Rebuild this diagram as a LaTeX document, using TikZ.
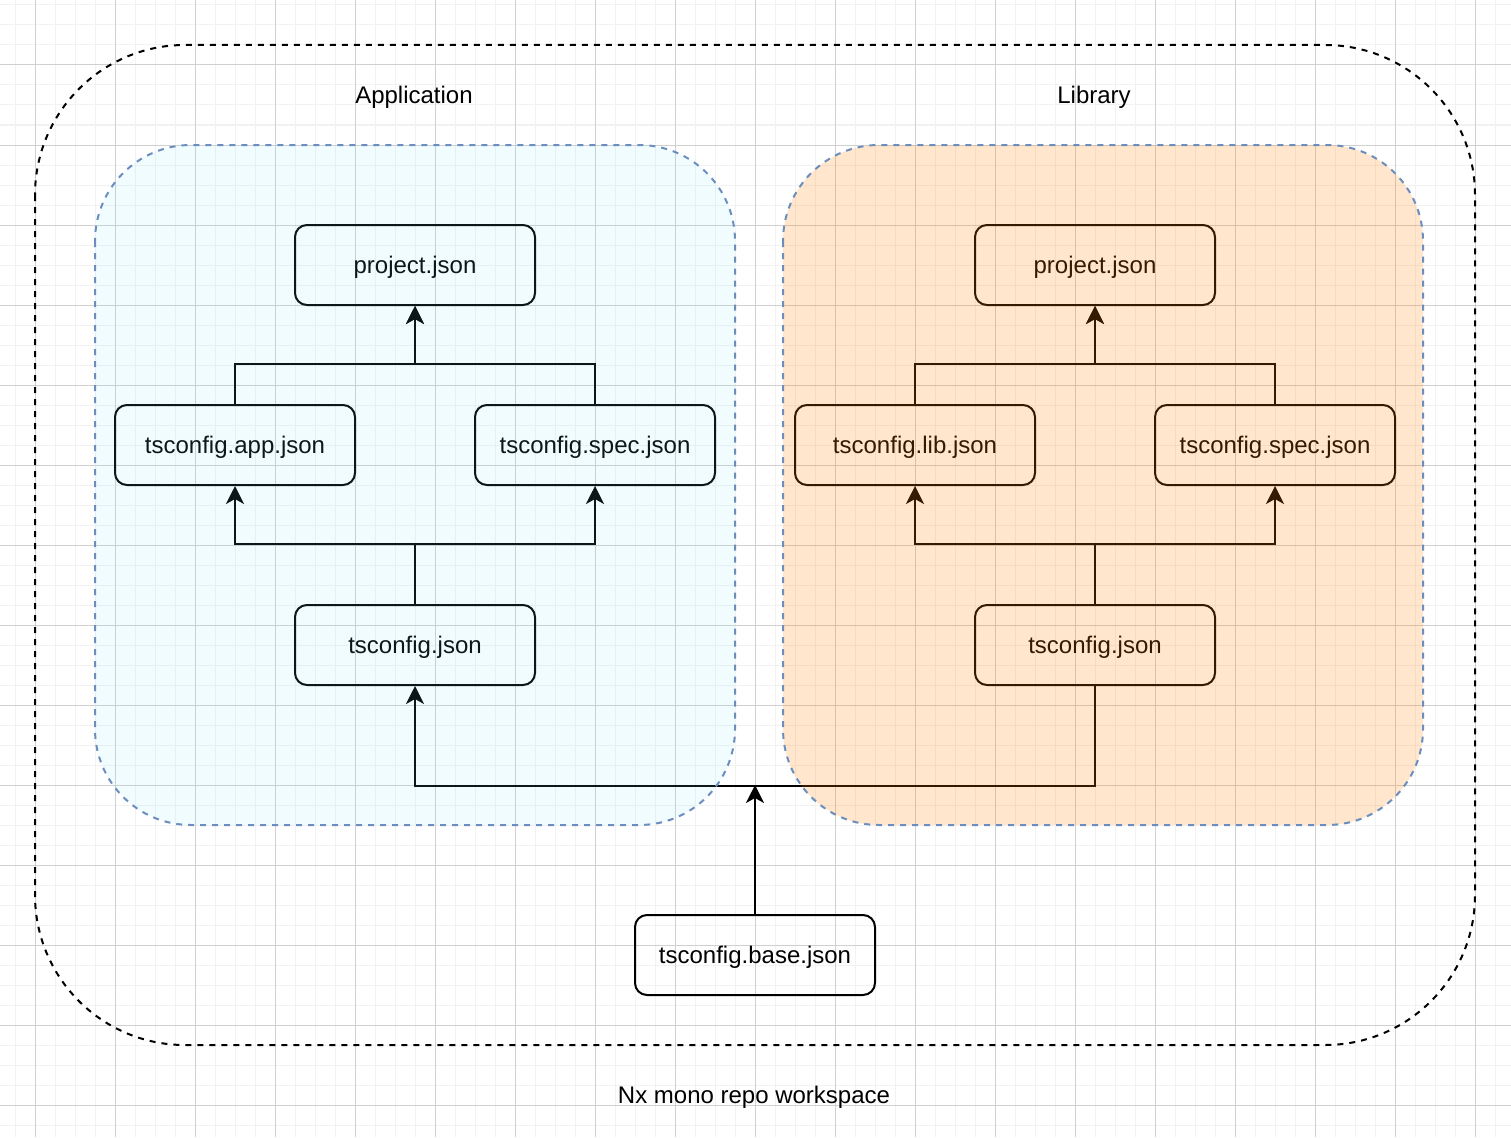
\documentclass[tikz,border=0pt]{standalone}
\usepackage{fontspec}
\setmainfont{Liberation Sans}
\usepackage{xcolor}
\usetikzlibrary{arrows.meta}
\usetikzlibrary{calc}
\definecolor{minorgrid}{RGB}{242,242,242}
\definecolor{majorgrid}{RGB}{208,208,208}
\definecolor{appfill}{RGB}{120,230,255}
\definecolor{libfill}{RGB}{255,130,0}
\definecolor{groupline}{RGB}{108,142,191}

\begin{document}
\begin{tikzpicture}[x=1pt,y=-1pt,
		file/.style={rectangle,draw,line width=2pt,rounded corners=12pt,minimum width=240pt,minimum height=80pt,text height=21.7pt,text depth=5.1pt,font=\fontsize{24}{28}\selectfont},
		label/.style={text height=21.7pt,text depth=5.1pt,font=\fontsize{24}{28}\selectfont},
		edge/.style={line width=2pt,-{Stealth[length=18pt,width=18pt,inset=5pt]}},
		group/.style={draw=groupline,line width=2pt,dash pattern=on 6pt off 6pt,rounded corners=96pt}]
		\useasboundingbox (0,0) rectangle (1511,1137);
		\fill[white] (0,0) rectangle (1511,1137);

		% grid
		\foreach \x in {15,35,...,1495} \draw[minorgrid,line width=1pt] (\x,0) -- (\x,1137);
		\foreach \y in {5,25,...,1125} \draw[minorgrid,line width=1pt] (0,\y) -- (1511,\y);
		\foreach \x in {35,115,...,1475} \draw[majorgrid,line width=1pt] (\x,0) -- (\x,1137);
		\foreach \y in {65,145,...,1105} \draw[majorgrid,line width=1pt] (0,\y) -- (1511,\y);

		\draw[line width=2pt,dash pattern=on 6pt off 6pt,rounded corners=150pt] (35,45) rectangle (1475,1045);
		\node[label] (workspace) at (754,1095) {Nx mono repo workspace};
		\node[label] (applabel) at (414,95) {Application};
		\node[label] (liblabel) at (1094,95) {Library};

		\node[file] (appproject) at (415,265) {project.json};
		\node[file] (appjson) at (235,445) {tsconfig.app.json};
		\node[file] (appspec) at (595,445) {tsconfig.spec.json};
		\node[file] (apptsconfig) at (415,645) {tsconfig.json};

		\node[file] (libproject) at (1095,265) {project.json};
		\node[file] (libjson) at (915,445) {tsconfig.lib.json};
		\node[file] (libspec) at (1275,445) {tsconfig.spec.json};
		\node[file] (libtsconfig) at (1095,645) {tsconfig.json};

		\node[file] (base) at (755,955) {tsconfig.base.json};
		\coordinate (join) at (755,785);

		\draw[edge] (appjson.north) -- ++(0,-40) -| (appproject.south);
		\draw[edge] (appspec.north) -- ++(0,-40) -| (appproject.south);
		\draw[edge] (apptsconfig.north) -- ++(0,-60) -| (appjson.south);
		\draw[edge] (apptsconfig.north) -- ++(0,-60) -| (appspec.south);

		\draw[edge] (libjson.north) -- ++(0,-40) -| (libproject.south);
		\draw[edge] (libspec.north) -- ++(0,-40) -| (libproject.south);
		\draw[edge] (libtsconfig.north) -- ++(0,-60) -| (libjson.south);
		\draw[edge] (libtsconfig.north) -- ++(0,-60) -| (libspec.south);

		\draw[edge] (libtsconfig.south) -- ++(0,100) -| (apptsconfig.south);
		\draw[edge] (base.north) -- (join);

		% groups on top
		\fill[appfill,fill opacity=0.1,rounded corners=96pt] (95,145) rectangle (735,825);
		\fill[libfill,fill opacity=0.2,rounded corners=96pt] (783,145) rectangle (1423,825);
		\draw[group] (95,145) rectangle (735,825);
		\draw[group] (783,145) rectangle (1423,825);
	\end{tikzpicture}
\end{document}
